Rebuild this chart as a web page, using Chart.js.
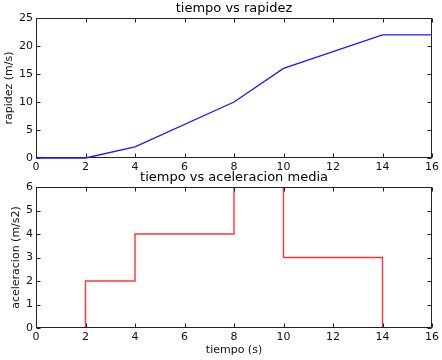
<!DOCTYPE html>
<html>
<head>
<meta charset="utf-8">
<script src="https://cdn.jsdelivr.net/npm/chart.js@4/dist/chart.umd.min.js"></script>
<style>
  html,body{margin:0;padding:0;background:#fff;}
  #wrap{position:relative;width:442px;height:360px;overflow:hidden;}
  #c1box{position:absolute;left:0;top:0;width:442px;height:180px;}
  #c2box{position:absolute;left:0;top:170px;width:442px;height:190px;}
</style>
</head>
<body>
<div id="wrap">
  <div id="c1box"><canvas id="c1"></canvas></div>
  <div id="c2box"><canvas id="c2"></canvas></div>
</div>
<script>
// ---- data ----
const tiempo = [0, 2, 4, 8, 10, 14, 16];
const rapidez = [0, 0, 2, 10, 16, 22, 22];
const aceleracion = [0, 2, 4, 6, 3, 0, 0];
const titulo1 = 'tiempo vs rapidez';
const titulo2 = 'tiempo vs aceleracion media';
const ejeX = 'tiempo (s)';
const ejeY1 = 'rapidez (m/s)';
const ejeY2 = 'aceleracion (m/s2)';

Chart.defaults.font.family = "'DejaVu Sans', sans-serif";
Chart.defaults.color = '#111';
Chart.defaults.animation = false;

function drawFrame(chart) {
  const {ctx, chartArea: a, scales: {x, y}} = chart;
  const L = Math.round(a.left) + 0.5, R = Math.round(a.right) - 0.5;
  const T = Math.round(a.top) + 0.5, B = Math.round(a.bottom) - 0.5;
  ctx.save();
  ctx.strokeStyle = '#222';
  ctx.lineWidth = 1;
  ctx.beginPath();
  x.ticks.forEach(t => {
    const px = Math.round(x.getPixelForValue(t.value)) + 0.5;
    ctx.moveTo(px, B); ctx.lineTo(px, B - 4);
    ctx.moveTo(px, T); ctx.lineTo(px, T + 4);
  });
  y.ticks.forEach(t => {
    const py = Math.round(y.getPixelForValue(t.value)) + 0.5;
    ctx.moveTo(L, py); ctx.lineTo(L + 4, py);
    ctx.moveTo(R, py); ctx.lineTo(R - 4, py);
  });
  ctx.stroke();
  ctx.strokeRect(L, T, R - L, B - T);
  ctx.restore();
}

const frameBefore = { id: 'frameBefore', beforeDatasetsDraw(chart) { drawFrame(chart); } };
const frameAfter = { id: 'frameAfter', afterDatasetsDraw(chart) { drawFrame(chart); } };
const centerTitle = {
  id: 'centerTitle',
  afterLayout(chart) {
    const tb = chart.titleBlock;
    if (tb) { tb.left = chart.chartArea.left; tb.right = chart.chartArea.right; }
  }
};

function makeChart(id, opts) {
  return new Chart(document.getElementById(id), {
    type: 'line',
    data: {
      datasets: [{
        data: tiempo.map((t, i) => ({x: t, y: opts.values[i]})),
        borderColor: opts.color,
        borderWidth: opts.width,
        pointRadius: 0,
        fill: false,
        tension: 0,
        stepped: opts.stepped,
        clip: opts.clip
      }]
    },
    options: {
      responsive: true,
      maintainAspectRatio: false,
      layout: {padding: {left: 0, right: 8, top: 0, bottom: 0}},
      plugins: {
        legend: {display: false},
        tooltip: {enabled: false},
        title: {
          display: true,
          text: opts.title,
          color: '#000',
          font: {size: 13, weight: 'normal'},
          padding: opts.titlePad
        }
      },
      scales: {
        x: {
          type: 'linear',
          min: 0, max: 16,
          afterFit: s => { s.height = opts.xHeight; },
          grid: {display: false, drawTicks: false},
          border: {display: false},
          ticks: {stepSize: 2, padding: 3, font: {size: 11}, color: '#111', maxRotation: 0},
          title: opts.xTitle ? {display: true, text: opts.xTitle, font: {size: 11}, color: '#111', padding: {top: 0, bottom: 3}} : {display: false}
        },
        y: {
          min: 0, max: opts.ymax,
          afterFit: s => { s.width = 36; },
          grid: {display: false, drawTicks: false},
          border: {display: false},
          ticks: {stepSize: opts.ystep, padding: 3, font: {size: 11}, color: '#111'},
          title: {display: true, text: opts.yTitle, font: {size: 11}, color: '#111', padding: {top: opts.yTitlePad, bottom: 0}}
        }
      }
    },
    plugins: [opts.frame, centerTitle]
  });
}

makeChart('c1', {
  values: rapidez, color: '#1a1aff', width: 1.3, stepped: false, clip: 3,
  title: titulo1, titlePad: {top: 1.2, bottom: 1.2},
  xHeight: 22, xTitle: null,
  ymax: 25, ystep: 5, yTitle: ejeY1, yTitlePad: 3,
  frame: frameBefore
});
makeChart('c2', {
  values: aceleracion, color: 'rgba(255,0,0,0.8)', width: 1.4, stepped: 'before', clip: 0,
  title: titulo2, titlePad: {top: 0.2, bottom: 1.2},
  xHeight: 32, xTitle: ejeX,
  ymax: 6, ystep: 1, yTitle: ejeY2, yTitlePad: 9.5,
  frame: frameAfter
});
</script>
</body>
</html>
